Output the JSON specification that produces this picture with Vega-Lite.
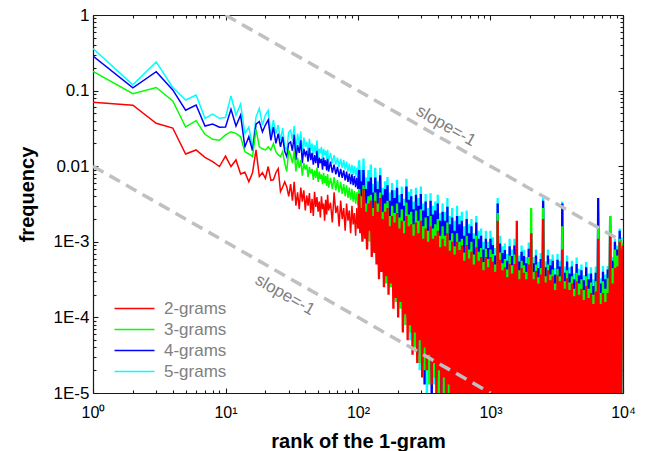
{
  "$schema": "https://vega.github.io/schema/vega-lite/v6.json",
  "width": 530,
  "height": 378,
  "autosize": "none",
  "padding": {"left": 93, "top": 15, "right": 24, "bottom": 58},
  "config": {
    "font": "Liberation Sans",
    "view": {"stroke": null},
    "axis": {
      "grid": false,
      "zindex": 1,
      "domainColor": "#1a1a1a",
      "domainWidth": 1.2,
      "tickColor": "#1a1a1a",
      "tickWidth": 1.1,
      "labelColor": "#000000",
      "titleColor": "#000000",
      "labelFlush": false,
      "labelOverlap": false
    }
  },
  "datasets": {
    "ngram": [
      {"x":1,"a":0.07,"b":0.18,"c":0.287,"d":0.36},
      {"x":2,"a":0.064,"b":0.091,"c":0.109,"d":0.119},
      {"x":3,"a":0.037,"b":0.11,"c":0.178,"d":0.24},
      {"x":4,"a":0.032,"b":0.073,"c":0.102,"d":0.11},
      {"x":5,"a":0.0145,"b":0.033,"c":0.055,"d":0.075},
      {"x":6,"a":0.0164,"b":0.04,"c":0.0645,"d":0.0875},
      {"x":7,"a":0.0131,"b":0.0264,"c":0.034,"d":0.043},
      {"x":8,"a":0.0115,"b":0.0227,"c":0.036,"d":0.049},
      {"x":9,"a":0.0099,"b":0.022,"c":0.0327,"d":0.043},
      {"x":10,"a":0.0136,"b":0.0259,"c":0.033,"d":0.044},
      {"x":11,"a":0.0099,"b":0.0286,"c":0.0565,"d":0.085},
      {"x":12,"a":0.0121,"b":0.0272,"c":0.034,"d":0.0475},
      {"x":13,"a":0.0079,"b":0.0245,"c":0.0475,"d":0.0665},
      {"x":14,"a":0.0083,"b":0.0156,"c":0.018,"d":0.0272},
      {"x":15,"a":0.0062,"b":0.0145,"c":0.0245,"d":0.033},
      {"x":16,"a":0.0082,"b":0.0134,"c":0.016,"d":0.018},
      {"x":17,"a":0.0164,"b":0.031,"c":0.036,"d":0.045},
      {"x":18,"a":0.0073,"b":0.018,"c":0.039,"d":0.058},
      {"x":19,"a":0.0082,"b":0.017,"c":0.0285,"d":0.035},
      {"x":20,"a":0.0069,"b":0.0164,"c":0.035,"d":0.0475},
      {"x":21,"a":0.0099,"b":0.018,"c":0.041,"d":0.055},
      {"x":22,"a":0.0065,"b":0.0164,"c":0.022,"d":0.0259},
      {"x":23,"a":0.0066,"b":0.02,"c":0.033,"d":0.041},
      {"x":24,"a":0.0082,"b":0.0156,"c":0.02,"d":0.027},
      {"x":25,"a":0.0093,"b":0.0141,"c":0.027,"d":0.035},
      {"x":26,"a":0.0046,"b":0.0134,"c":0.018,"d":0.022},
      {"x":27,"a":0.0053,"b":0.0156,"c":0.0245,"d":0.032},
      {"x":28,"a":0.0062,"b":0.011,"c":0.0156,"d":0.018},
      {"x":29,"a":0.0053,"b":0.0085,"c":0.0134,"d":0.0164},
      {"x":30,"a":0.004,"b":0.0164,"c":0.02,"d":0.028},
      {"x":31,"a":0.0058,"b":0.014,"c":0.021,"d":0.03},
      {"x":32,"a":0.0035,"b":0.011,"c":0.016,"d":0.022},
      {"x":33,"a":0.0062,"b":0.016,"c":0.026,"d":0.034},
      {"x":34,"a":0.003,"b":0.0085,"c":0.012,"d":0.016},
      {"x":35,"a":0.0045,"b":0.013,"c":0.019,"d":0.027},
      {"x":36,"a":0.0027,"b":0.0095,"c":0.015,"d":0.019},
      {"x":37,"a":0.0052,"b":0.012,"c":0.022,"d":0.029},
      {"x":38,"a":0.0034,"b":0.0075,"c":0.011,"d":0.014},
      {"x":39,"a":0.0048,"b":0.011,"c":0.017,"d":0.024},
      {"x":40,"a":0.0026,"b":0.009,"c":0.014,"d":0.018},
      {"x":41,"a":0.0041,"b":0.0105,"c":0.016,"d":0.021},
      {"x":42,"a":0.003,"b":0.0072,"c":0.0115,"d":0.015},
      {"x":43,"a":0.0044,"b":0.0098,"c":0.0175,"d":0.023},
      {"x":44,"a":0.0024,"b":0.008,"c":0.012,"d":0.016},
      {"x":45,"a":0.0037,"b":0.0092,"c":0.015,"d":0.02},
      {"x":46,"a":0.0022,"b":0.0066,"c":0.0105,"d":0.014},
      {"x":47,"a":0.0046,"b":0.0088,"c":0.014,"d":0.019},
      {"x":48,"a":0.0029,"b":0.007,"c":0.011,"d":0.0145},
      {"x":49,"a":0.0039,"b":0.0095,"c":0.016,"d":0.022},
      {"x":50,"a":0.0025,"b":0.0062,"c":0.0095,"d":0.013},
      {"x":51,"a":0.0034,"b":0.0085,"c":0.013,"d":0.017},
      {"x":52,"a":0.0021,"b":0.0068,"c":0.011,"d":0.015},
      {"x":53,"a":0.004,"b":0.0078,"c":0.0125,"d":0.018},
      {"x":54,"a":0.0027,"b":0.0058,"c":0.009,"d":0.012},
      {"x":55,"a":0.0032,"b":0.0082,"c":0.013,"d":0.017},
      {"x":56,"a":0.0019,"b":0.006,"c":0.01,"d":0.014},
      {"x":57,"a":0.0036,"b":0.0074,"c":0.012,"d":0.016},
      {"x":58,"a":0.0023,"b":0.0055,"c":0.0088,"d":0.012},
      {"x":59,"a":0.0042,"b":0.0079,"c":0.0125,"d":0.0165},
      {"x":60,"a":0.0026,"b":0.0052,"c":0.0085,"d":0.0115},
      {"x":62,"a":0.0033,"b":0.007,"c":0.0115,"d":0.015},
      {"x":64,"a":0.0018,"b":0.005,"c":0.0082,"d":0.011},
      {"x":66,"a":0.0045,"b":0.0072,"c":0.0105,"d":0.014},
      {"x":68,"a":0.0024,"b":0.0048,"c":0.0078,"d":0.0105},
      {"x":70,"a":0.003,"b":0.0066,"c":0.0098,"d":0.013},
      {"x":72,"a":0.0016,"b":0.0045,"c":0.0072,"d":0.0098},
      {"x":74,"a":0.0035,"b":0.0062,"c":0.0092,"d":0.0125},
      {"x":76,"a":0.002,"b":0.0043,"c":0.007,"d":0.0095},
      {"x":78,"a":0.0028,"b":0.0058,"c":0.0088,"d":0.012},
      {"x":80,"a":0.0014,"b":0.004,"c":0.0065,"d":0.009},
      {"x":82,"a":0.0032,"b":0.0056,"c":0.0085,"d":0.0115},
      {"x":84,"a":0.0019,"b":0.0038,"c":0.0062,"d":0.0085},
      {"x":86,"a":0.0026,"b":0.0052,"c":0.008,"d":0.0108},
      {"x":88,"a":0.0013,"b":0.0036,"c":0.0058,"d":0.008},
      {"x":90,"a":0.003,"b":0.005,"c":0.0078,"d":0.0104},
      {"x":92,"a":0.0017,"b":0.0034,"c":0.0056,"d":0.0077},
      {"x":94,"a":0.0024,"b":0.0047,"c":0.0074,"d":0.01},
      {"x":96,"a":0.0012,"b":0.0032,"c":0.0053,"d":0.0073},
      {"x":98,"a":0.0028,"b":0.0045,"c":0.007,"d":0.0095},
      {"x":100,"a":0.0015,"b":0.0031,"c":0.005,"d":0.007},
      {"x":102,"a":0.0043,"b":0.005,"c":0.0089,"d":0.012},
      {"x":104,"a":0.0013,"b":0.002,"c":0.0032,"d":0.0045},
      {"x":106,"a":0.0028,"b":0.004,"c":0.0063,"d":0.0089},
      {"x":108,"a":0.001,"b":0.0018,"c":0.0025,"d":0.0035},
      {"x":110,"a":0.005,"b":0.0056,"c":0.0089,"d":0.0126},
      {"x":113,"a":0.0011,"b":0.0014,"c":0.002,"d":0.0032},
      {"x":115,"a":0.0025,"b":0.0032,"c":0.005,"d":0.0071},
      {"x":117,"a":0.00079,"b":0.0016,"c":0.0022,"d":0.0028},
      {"x":120,"a":0.0032,"b":0.004,"c":0.0063,"d":0.0089},
      {"x":122,"a":0.0014,"b":0.001,"c":0.0016,"d":0.0025},
      {"x":125,"a":0.0035,"b":0.0042,"c":0.0071,"d":0.0105},
      {"x":127,"a":0.00063,"b":0.0013,"c":0.002,"d":0.0022},
      {"x":130,"a":0.0022,"b":0.0028,"c":0.0045,"d":0.0058},
      {"x":133,"a":0.00071,"b":0.00089,"c":0.0014,"d":0.002},
      {"x":135,"a":0.0035,"b":0.0045,"c":0.0071,"d":0.0095},
      {"x":138,"a":0.0005,"b":0.0011,"c":0.0016,"d":0.0018},
      {"x":141,"a":0.0025,"b":0.0032,"c":0.005,"d":0.0063},
      {"x":144,"a":0.00032,"b":0.00079,"c":0.001,"d":0.0014},
      {"x":147,"a":0.0038,"b":0.0045,"c":0.0076,"d":0.0095},
      {"x":150,"a":0.0004,"b":0.00063,"c":0.0011,"d":0.001},
      {"x":153,"a":0.002,"b":0.0025,"c":0.0042,"d":0.0052},
      {"x":157,"a":0.00025,"b":0.0005,"c":0.00079,"d":0.0013},
      {"x":160,"a":0.0025,"b":0.0032,"c":0.005,"d":0.0063},
      {"x":163,"a":0.00035,"b":0.00028,"c":0.00063,"d":0.00079},
      {"x":167,"a":0.0028,"b":0.0035,"c":0.0056,"d":0.0072},
      {"x":170,"a":0.0002,"b":0.00045,"c":0.0005,"d":0.0004},
      {"x":174,"a":0.0016,"b":0.0022,"c":0.0035,"d":0.0045},
      {"x":177,"a":0.00028,"b":0.00025,"c":0.00045,"d":0.00063},
      {"x":181,"a":0.0022,"b":0.003,"c":0.0048,"d":0.006},
      {"x":185,"a":0.00013,"b":0.00032,"c":0.00035,"d":0.00032},
      {"x":189,"a":0.0018,"b":0.0024,"c":0.0038,"d":0.0048},
      {"x":193,"a":0.00018,"b":0.00016,"c":0.00028,"d":0.0004},
      {"x":197,"a":0.0024,"b":0.0032,"c":0.0052,"d":0.0066},
      {"x":201,"a":0.0001,"b":0.00022,"c":0.0002,"d":0.00028},
      {"x":205,"a":0.0015,"b":0.0021,"c":0.0033,"d":0.0042},
      {"x":209,"a":0.00016,"b":0.00013,"c":0.00025,"d":0.00018},
      {"x":214,"a":0.0019,"b":0.0027,"c":0.0043,"d":0.0054},
      {"x":218,"a":6.3e-5,"b":0.00018,"c":0.00016,"d":0.00022},
      {"x":223,"a":0.0013,"b":0.0019,"c":0.003,"d":0.0037},
      {"x":228,"a":0.00011,"b":7.9e-5,"c":0.00013,"d":0.0001},
      {"x":232,"a":0.0022,"b":0.0033,"c":0.0054,"d":0.0068},
      {"x":237,"a":5e-5,"b":0.00014,"c":0.0001,"d":0.00013},
      {"x":242,"a":0.0016,"b":0.0023,"c":0.0036,"d":0.0046},
      {"x":247,"a":7.9e-5,"b":6.3e-5,"c":0.00011,"d":5e-5},
      {"x":252,"a":0.0017,"b":0.0025,"c":0.004,"d":0.005},
      {"x":258,"a":3.2e-5,"b":0.0001,"c":6.3e-5,"d":7.9e-5},
      {"x":263,"a":0.0012,"b":0.0017,"c":0.0027,"d":0.0034},
      {"x":269,"a":6.3e-5,"b":4e-5,"c":7.9e-5,"d":0.0001},
      {"x":274,"a":0.0018,"b":0.0026,"c":0.0042,"d":0.0052},
      {"x":280,"a":2.5e-5,"b":7.9e-5,"c":3.2e-5,"d":4e-5},
      {"x":286,"a":0.0013,"b":0.0019,"c":0.003,"d":0.0038},
      {"x":292,"a":5e-5,"b":2.5e-5,"c":5e-5,"d":2e-5},
      {"x":298,"a":0.0019,"b":0.0027,"c":0.0043,"d":0.0054},
      {"x":305,"a":1.6e-5,"b":5e-5,"c":2.5e-5,"d":4e-5},
      {"x":311,"a":0.0011,"b":0.0016,"c":0.0026,"d":0.0032},
      {"x":318,"a":4e-5,"b":2e-5,"c":1.3e-5,"d":2.5e-5},
      {"x":324,"a":0.0015,"b":0.0021,"c":0.0034,"d":0.0043},
      {"x":331,"a":2e-5,"b":3.2e-5,"c":4e-5,"d":6.3e-6},
      {"x":338,"a":0.001,"b":0.0014,"c":0.0022,"d":0.0028},
      {"x":345,"a":3.2e-5,"b":1.3e-5,"c":2e-5,"d":3.2e-5},
      {"x":353,"a":0.0016,"b":0.0022,"c":0.0035,"d":0.0044},
      {"x":360,"a":1.3e-5,"b":4e-5,"c":6.3e-6,"d":1.6e-5},
      {"x":368,"a":0.0011,"b":0.0015,"c":0.0023,"d":0.003},
      {"x":375,"a":2.5e-5,"b":1.6e-5,"c":3.2e-5,"d":1.3e-5},
      {"x":383,"a":0.0012,"b":0.0017,"c":0.0026,"d":0.0034},
      {"x":391,"a":6.3e-6,"b":2.5e-5,"c":1.6e-5,"d":2.5e-5},
      {"x":400,"a":0.0014,"b":0.002,"c":0.0032,"d":0.0042},
      {"x":408,"a":2e-5,"b":8e-6,"c":2.5e-5,"d":5e-6},
      {"x":417,"a":0.00085,"b":0.0012,"c":0.0019,"d":0.0024},
      {"x":426,"a":1e-5,"b":2e-5,"c":5e-6,"d":1.6e-5},
      {"x":435,"a":0.0011,"b":0.0016,"c":0.0025,"d":0.0032},
      {"x":444,"a":1.6e-5,"b":6.3e-6,"c":1.3e-5,"d":8e-6},
      {"x":453,"a":0.00087,"b":0.0012,"c":0.0019,"d":0.0025},
      {"x":463,"a":5e-6,"b":1.6e-5,"c":1e-5,"d":2e-5},
      {"x":473,"a":0.0013,"b":0.0018,"c":0.0029,"d":0.0038},
      {"x":483,"a":1.3e-5,"b":5e-6,"c":4e-6,"d":6.3e-6},
      {"x":493,"a":0.00076,"b":0.00105,"c":0.0017,"d":0.0022},
      {"x":503,"a":4e-6,"b":1.3e-5,"c":1e-5,"d":4e-6},
      {"x":514,"a":0.001,"b":0.0013,"c":0.0021,"d":0.0028},
      {"x":525,"a":8e-6,"b":4e-6,"c":5e-6,"d":1e-5},
      {"x":536,"a":0.00068,"b":0.00087,"c":0.0014,"d":0.0019},
      {"x":547,"a":5e-6,"b":6.3e-6,"c":1.3e-5,"d":4e-6},
      {"x":559,"a":0.001,"b":0.0013,"c":0.0022,"d":0.003},
      {"x":571,"a":4e-6,"b":5e-6,"c":4e-6,"d":6.3e-6},
      {"x":583,"a":0.00078,"b":0.001,"c":0.0017,"d":0.0022},
      {"x":595,"a":1e-5,"b":4e-6,"c":6.3e-6,"d":4e-6},
      {"x":608,"a":0.00089,"b":0.0011,"c":0.0019,"d":0.0025},
      {"x":620,"a":4e-6,"b":4e-6,"c":4e-6,"d":4e-6},
      {"x":634,"a":0.00056,"b":0.00072,"c":0.0012,"d":0.0016},
      {"x":647,"a":6.3e-6,"b":1e-5,"c":4e-6,"d":5e-6},
      {"x":661,"a":0.00091,"b":0.0012,"c":0.002,"d":0.0026},
      {"x":675,"a":4e-6,"b":4e-6,"c":8e-6,"d":4e-6},
      {"x":689,"a":0.0006,"b":0.00079,"c":0.0013,"d":0.0017},
      {"x":703,"a":4e-6,"b":4e-6,"c":4e-6,"d":4e-6},
      {"x":718,"a":0.00074,"b":0.001,"c":0.0016,"d":0.002},
      {"x":733,"a":1e-5,"b":4e-6,"c":4e-6,"d":4e-6},
      {"x":749,"a":0.0005,"b":0.00068,"c":0.0011,"d":0.0013},
      {"x":765,"a":4e-6,"b":4e-6,"c":4e-6,"d":4e-6},
      {"x":781,"a":0.00085,"b":0.0012,"c":0.0018,"d":0.0022},
      {"x":797,"a":4e-6,"b":4e-6,"c":4e-6,"d":4e-6},
      {"x":814,"a":0.00056,"b":0.00074,"c":0.0011,"d":0.0014},
      {"x":831,"a":4e-6,"b":4e-6,"c":4e-6,"d":4e-6},
      {"x":849,"a":0.00063,"b":0.00083,"c":0.0012,"d":0.0015},
      {"x":867,"a":4e-6,"b":4e-6,"c":4e-6,"d":4e-6},
      {"x":885,"a":0.00042,"b":0.00054,"c":0.00079,"d":0.001},
      {"x":904,"a":4e-6,"b":4e-6,"c":4e-6,"d":4e-6},
      {"x":923,"a":0.00063,"b":0.00081,"c":0.0011,"d":0.0014},
      {"x":942,"a":4e-6,"b":4e-6,"c":4e-6,"d":4e-6},
      {"x":962,"a":0.00046,"b":0.00059,"c":0.00083,"d":0.001},
      {"x":982,"a":4e-6,"b":4e-6,"c":4e-6,"d":4e-6},
      {"x":1000,"a":0.00063,"b":0.00079,"c":0.0011,"d":0.0014},
      {"x":1021,"a":4e-6,"b":4e-6,"c":4e-6,"d":4e-6},
      {"x":1042,"a":0.00055,"b":0.00069,"c":0.00091,"d":0.00115},
      {"x":1064,"a":4e-6,"b":4e-6,"c":4e-6,"d":4e-6},
      {"x":1087,"a":0.0004,"b":0.0005,"c":0.00066,"d":0.00083},
      {"x":1110,"a":4e-6,"b":4e-6,"c":4e-6,"d":4e-6},
      {"x":1133,"a":0.0019,"b":0.0024,"c":0.0032,"d":0.0038},
      {"x":1157,"a":4e-6,"b":4e-6,"c":4e-6,"d":4e-6},
      {"x":1181,"a":0.00058,"b":0.00072,"c":0.00095,"d":0.0012},
      {"x":1206,"a":4e-6,"b":4e-6,"c":4e-6,"d":4e-6},
      {"x":1231,"a":0.00042,"b":0.00052,"c":0.00071,"d":0.00087},
      {"x":1257,"a":4e-6,"b":4e-6,"c":4e-6,"d":4e-6},
      {"x":1284,"a":0.00046,"b":0.00059,"c":0.00078,"d":0.00095},
      {"x":1311,"a":4e-6,"b":4e-6,"c":4e-6,"d":4e-6},
      {"x":1338,"a":0.00034,"b":0.00043,"c":0.00056,"d":0.00069},
      {"x":1366,"a":4e-6,"b":4e-6,"c":4e-6,"d":4e-6},
      {"x":1395,"a":0.00051,"b":0.00066,"c":0.00087,"d":0.0011},
      {"x":1424,"a":4e-6,"b":4e-6,"c":4e-6,"d":4e-6},
      {"x":1454,"a":0.00038,"b":0.00049,"c":0.00065,"d":0.00079},
      {"x":1485,"a":4e-6,"b":4e-6,"c":4e-6,"d":4e-6},
      {"x":1516,"a":0.00051,"b":0.00068,"c":0.00089,"d":0.0011},
      {"x":1548,"a":4e-6,"b":4e-6,"c":4e-6,"d":4e-6},
      {"x":1580,"a":0.0019,"b":0.00063,"c":0.00079,"d":0.001},
      {"x":1613,"a":4e-6,"b":4e-6,"c":4e-6,"d":4e-6},
      {"x":1647,"a":0.00032,"b":0.00042,"c":0.00055,"d":0.00066},
      {"x":1682,"a":4e-6,"b":4e-6,"c":4e-6,"d":4e-6},
      {"x":1717,"a":0.00045,"b":0.00056,"c":0.00074,"d":0.00089},
      {"x":1753,"a":4e-6,"b":4e-6,"c":4e-6,"d":4e-6},
      {"x":1790,"a":0.00039,"b":0.00049,"c":0.00065,"d":0.00078},
      {"x":1828,"a":4e-6,"b":4e-6,"c":4e-6,"d":4e-6},
      {"x":1866,"a":0.00032,"b":0.0004,"c":0.00052,"d":0.00063},
      {"x":1905,"a":4e-6,"b":4e-6,"c":4e-6,"d":4e-6},
      {"x":1945,"a":0.0005,"b":0.00063,"c":0.00081,"d":0.00098},
      {"x":1986,"a":4e-6,"b":4e-6,"c":4e-6,"d":4e-6},
      {"x":2028,"a":0.0013,"b":0.0028,"c":0.0013,"d":0.0011},
      {"x":2071,"a":4e-6,"b":4e-6,"c":4e-6,"d":4e-6},
      {"x":2114,"a":0.00032,"b":0.0004,"c":0.00052,"d":0.00063},
      {"x":2158,"a":4e-6,"b":4e-6,"c":4e-6,"d":4e-6},
      {"x":2204,"a":0.00041,"b":0.0005,"c":0.00066,"d":0.00079},
      {"x":2250,"a":4e-6,"b":4e-6,"c":4e-6,"d":4e-6},
      {"x":2297,"a":0.00028,"b":0.00034,"c":0.00045,"d":0.00054},
      {"x":2345,"a":4e-6,"b":4e-6,"c":4e-6,"d":4e-6},
      {"x":2395,"a":0.00037,"b":0.00045,"c":0.00059,"d":0.00071},
      {"x":2445,"a":4e-6,"b":4e-6,"c":4e-6,"d":4e-6},
      {"x":2496,"a":0.002,"b":0.0028,"c":0.0035,"d":0.0038},
      {"x":2549,"a":4e-6,"b":4e-6,"c":4e-6,"d":4e-6},
      {"x":2602,"a":0.00029,"b":0.00035,"c":0.00046,"d":0.00055},
      {"x":2657,"a":4e-6,"b":4e-6,"c":4e-6,"d":4e-6},
      {"x":2713,"a":0.00042,"b":0.0005,"c":0.00066,"d":0.00079},
      {"x":2770,"a":4e-6,"b":4e-6,"c":4e-6,"d":4e-6},
      {"x":2828,"a":0.00031,"b":0.00037,"c":0.00049,"d":0.00059},
      {"x":2887,"a":4e-6,"b":4e-6,"c":4e-6,"d":4e-6},
      {"x":2948,"a":0.00035,"b":0.00043,"c":0.00056,"d":0.00068},
      {"x":3010,"a":4e-6,"b":4e-6,"c":4e-6,"d":4e-6},
      {"x":3073,"a":0.00023,"b":0.00028,"c":0.00037,"d":0.00045},
      {"x":3138,"a":4e-6,"b":4e-6,"c":4e-6,"d":4e-6},
      {"x":3204,"a":0.00036,"b":0.00044,"c":0.00058,"d":0.00069},
      {"x":3271,"a":4e-6,"b":4e-6,"c":4e-6,"d":4e-6},
      {"x":3340,"a":0.0003,"b":0.00035,"c":0.00047,"d":0.00056},
      {"x":3410,"a":4e-6,"b":4e-6,"c":4e-6,"d":4e-6},
      {"x":3482,"a":0.00079,"b":0.0016,"c":0.0032,"d":0.0034},
      {"x":3555,"a":4e-6,"b":4e-6,"c":4e-6,"d":4e-6},
      {"x":3630,"a":0.00024,"b":0.0003,"c":0.00039,"d":0.00047},
      {"x":3706,"a":4e-6,"b":4e-6,"c":4e-6,"d":4e-6},
      {"x":3784,"a":0.00033,"b":0.00042,"c":0.00055,"d":0.00066},
      {"x":3863,"a":4e-6,"b":4e-6,"c":4e-6,"d":4e-6},
      {"x":3944,"a":0.00023,"b":0.00029,"c":0.00038,"d":0.00046},
      {"x":4027,"a":4e-6,"b":4e-6,"c":4e-6,"d":4e-6},
      {"x":4112,"a":0.00028,"b":0.00035,"c":0.00047,"d":0.00056},
      {"x":4198,"a":4e-6,"b":4e-6,"c":4e-6,"d":4e-6},
      {"x":4286,"a":0.00019,"b":0.00024,"c":0.00032,"d":0.00038},
      {"x":4376,"a":4e-6,"b":4e-6,"c":4e-6,"d":4e-6},
      {"x":4468,"a":0.0003,"b":0.00039,"c":0.00051,"d":0.00062},
      {"x":4562,"a":4e-6,"b":4e-6,"c":4e-6,"d":4e-6},
      {"x":4658,"a":0.0002,"b":0.00028,"c":0.00036,"d":0.00044},
      {"x":4756,"a":4e-6,"b":4e-6,"c":4e-6,"d":4e-6},
      {"x":4856,"a":0.00024,"b":0.00032,"c":0.00042,"d":0.0005},
      {"x":4958,"a":4e-6,"b":4e-6,"c":4e-6,"d":4e-6},
      {"x":5062,"a":0.00017,"b":0.00023,"c":0.00031,"d":0.00036},
      {"x":5168,"a":4e-6,"b":4e-6,"c":4e-6,"d":4e-6},
      {"x":5277,"a":0.00026,"b":0.00035,"c":0.00046,"d":0.00054},
      {"x":5388,"a":4e-6,"b":4e-6,"c":4e-6,"d":4e-6},
      {"x":5501,"a":0.00018,"b":0.00024,"c":0.00032,"d":0.00038},
      {"x":5617,"a":4e-6,"b":4e-6,"c":4e-6,"d":4e-6},
      {"x":5735,"a":0.00021,"b":0.00029,"c":0.00038,"d":0.00046},
      {"x":5855,"a":4e-6,"b":4e-6,"c":4e-6,"d":4e-6},
      {"x":5978,"a":0.00015,"b":0.0002,"c":0.00026,"d":0.00032},
      {"x":6104,"a":4e-6,"b":4e-6,"c":4e-6,"d":4e-6},
      {"x":6232,"a":0.00022,"b":0.0003,"c":0.00039,"d":0.00047},
      {"x":6363,"a":4e-6,"b":4e-6,"c":4e-6,"d":4e-6},
      {"x":6497,"a":0.0011,"b":0.0016,"c":0.0038,"d":0.0025},
      {"x":6633,"a":4e-6,"b":4e-6,"c":4e-6,"d":4e-6},
      {"x":6773,"a":0.00015,"b":0.00021,"c":0.00028,"d":0.00033},
      {"x":6915,"a":4e-6,"b":4e-6,"c":4e-6,"d":4e-6},
      {"x":7060,"a":0.00021,"b":0.0003,"c":0.0004,"d":0.00048},
      {"x":7209,"a":4e-6,"b":4e-6,"c":4e-6,"d":4e-6},
      {"x":7360,"a":0.00016,"b":0.00024,"c":0.00032,"d":0.00037},
      {"x":7515,"a":4e-6,"b":4e-6,"c":4e-6,"d":4e-6},
      {"x":7673,"a":0.00021,"b":0.00033,"c":0.00043,"d":0.00048},
      {"x":7834,"a":4e-6,"b":4e-6,"c":4e-6,"d":4e-6},
      {"x":7999,"a":0.0013,"b":0.0022,"c":0.0022,"d":0.0018},
      {"x":8167,"a":4e-6,"b":4e-6,"c":4e-6,"d":4e-6},
      {"x":8338,"a":0.00028,"b":0.00045,"c":0.00056,"d":0.00063},
      {"x":8513,"a":4e-6,"b":4e-6,"c":4e-6,"d":4e-6},
      {"x":8692,"a":0.00045,"b":0.00079,"c":0.001,"d":0.0011},
      {"x":8875,"a":4e-6,"b":4e-6,"c":4e-6,"d":4e-6},
      {"x":9061,"a":0.00047,"b":0.00066,"c":0.00079,"d":0.00089},
      {"x":9252,"a":4e-6,"b":4e-6,"c":4e-6,"d":4e-6},
      {"x":9446,"a":0.001,"b":0.0011,"c":0.0014,"d":0.0015},
      {"x":9645,"a":4e-6,"b":4e-6,"c":4e-6,"d":4e-6},
      {"x":9847,"a":0.00076,"b":0.00095,"c":0.001,"d":0.0011},
      {"x":10000,"a":0.00089,"b":0.001,"c":0.001,"d":0.0011}
    ],
    "guides": [
      {"g":"upper","x":10,"y":1},
      {"g":"upper","x":10000,"y":0.001},
      {"g":"lower","x":1,"y":0.01},
      {"g":"lower","x":1000,"y":0.00001}
    ],
    "notes": [
      {"x":461,"y":0.034,"t":"slope=-1"},
      {"x":28.1,"y":0.000198,"t":"slope=-1"}
    ]
  },
  "layer": [
    {
      "data": {"name": "ngram"},
      "transform": [
        {"filter": "datum.x <= 100"},
        {"fold": ["d", "c", "b", "a"], "as": ["s", "y"]}
      ],
      "mark": {"type": "line", "clip": true, "strokeWidth": 1.5},
      "encoding": {
        "x": {
          "field": "x",
          "type": "quantitative",
          "scale": {"type": "log", "domain": [1, 10000], "nice": false},
          "axis": {
            "orient": "bottom",
            "values": [1, 10, 100, 1000, 10000],
            "tickSize": -5,
            "labelExpr": "'10' + ['⁰','¹','²','³','⁴'][round(log(datum.value) / LN10)]",
            "labelFontSize": 16,
            "labelPadding": 16,
            "labelBaseline": "top",
            "title": "rank of the 1-gram",
            "titleFontSize": 20,
            "titleFontWeight": "bold",
            "titleX": 265,
            "titleY": 54,
            "titleBaseline": "alphabetic"
          }
        },
        "y": {
          "field": "y",
          "type": "quantitative",
          "scale": {"type": "log", "domain": [0.00001, 1], "nice": false},
          "axis": {
            "orient": "left",
            "values": [0.00001, 0.0001, 0.001, 0.01, 0.1, 1],
            "tickSize": -5,
            "labelExpr": "datum.value > 0.5 ? '1' : datum.value > 0.05 ? '0.1' : datum.value > 0.005 ? '0.01' : '1E' + round(log(datum.value) / LN10)",
            "labelFontSize": 17,
            "labelPadding": 9,
            "title": "frequency",
            "titleFontSize": 20,
            "titleFontWeight": "bold",
            "titleAngle": -90,
            "titleX": -66,
            "titleY": 179,
            "titleBaseline": "middle"
          }
        },
        "color": {
          "field": "s",
          "type": "nominal",
          "scale": {"domain": ["a", "b", "c", "d"], "range": ["#ff0000", "#00ff00", "#0000ff", "#00ffff"]},
          "legend": {
            "title": null,
            "orient": "none",
            "legendX": 20,
            "legendY": 285,
            "padding": 0,
            "symbolType": "M-1,0H4.714",
            "symbolSize": 196,
            "symbolStrokeWidth": 1.5,
            "labelFontSize": 17,
            "labelColor": "#808080",
            "labelOffset": 34,
            "rowPadding": 3,
            "labelExpr": "datum.label == 'a' ? '2-grams' : datum.label == 'b' ? '3-grams' : datum.label == 'c' ? '4-grams' : '5-grams'"
          }
        }
      }
    },
    {
      "data": {"name": "ngram"},
      "transform": [
        {"filter": "datum.x >= 100"},
        {"fold": ["d", "c", "b", "a"], "as": ["s", "y"]}
      ],
      "mark": {"type": "line", "clip": true, "strokeWidth": 2.3},
      "encoding": {
        "x": {
          "field": "x",
          "type": "quantitative",
          "scale": {"type": "log", "domain": [1, 10000], "nice": false},
          "axis": null
        },
        "y": {
          "field": "y",
          "type": "quantitative",
          "scale": {"type": "log", "domain": [0.00001, 1], "nice": false},
          "axis": null
        },
        "color": {
          "field": "s",
          "type": "nominal",
          "scale": {"domain": ["a", "b", "c", "d"], "range": ["#ff0000", "#00ff00", "#0000ff", "#00ffff"]},
          "legend": null
        }
      }
    },
    {
      "data": {"name": "guides"},
      "mark": {"type": "line", "clip": true, "color": "#c0c0c0", "strokeWidth": 3.5, "strokeDash": [12, 7]},
      "encoding": {
        "x": {
          "field": "x",
          "type": "quantitative",
          "scale": {"type": "log", "domain": [1, 10000], "nice": false},
          "axis": {"orient": "top", "values": [1, 10, 100, 1000, 10000], "tickSize": -5, "labels": false, "title": null}
        },
        "y": {
          "field": "y",
          "type": "quantitative",
          "scale": {"type": "log", "domain": [0.00001, 1], "nice": false},
          "axis": {"orient": "right", "values": [0.00001, 0.0001, 0.001, 0.01, 0.1, 1], "tickSize": -5, "labels": false, "title": null}
        },
        "detail": {"field": "g"}
      }
    },
    {
      "data": {"name": "notes"},
      "mark": {"type": "text", "angle": 29.7, "fontSize": 17, "color": "#808080", "align": "center", "baseline": "middle"},
      "encoding": {
        "x": {
          "field": "x",
          "type": "quantitative",
          "scale": {"type": "log", "domain": [1, 10000], "nice": false},
          "axis": {
            "orient": "bottom",
            "values": [2, 3, 4, 5, 6, 7, 8, 9, 20, 30, 40, 50, 60, 70, 80, 90, 200, 300, 400, 500, 600, 700, 800, 900, 2000, 3000, 4000, 5000, 6000, 7000, 8000, 9000],
            "tickSize": -3,
            "labels": false,
            "domain": false,
            "title": null
          }
        },
        "y": {
          "field": "y",
          "type": "quantitative",
          "scale": {"type": "log", "domain": [0.00001, 1], "nice": false},
          "axis": {
            "orient": "left",
            "values": [0.00002, 0.00003, 0.00004, 0.00005, 0.00006, 0.00007, 0.00008, 0.00009, 0.0002, 0.0003, 0.0004, 0.0005, 0.0006, 0.0007, 0.0008, 0.0009, 0.002, 0.003, 0.004, 0.005, 0.006, 0.007, 0.008, 0.009, 0.02, 0.03, 0.04, 0.05, 0.06, 0.07, 0.08, 0.09, 0.2, 0.3, 0.4, 0.5, 0.6, 0.7, 0.8, 0.9],
            "tickSize": -3,
            "labels": false,
            "domain": false,
            "title": null
          }
        },
        "text": {"field": "t"}
      }
    },
    {
      "data": {"name": "guides"},
      "mark": {"type": "point", "opacity": 0},
      "encoding": {
        "x": {
          "field": "x",
          "type": "quantitative",
          "scale": {"type": "log", "domain": [1, 10000], "nice": false},
          "axis": {
            "orient": "top",
            "values": [2, 3, 4, 5, 6, 7, 8, 9, 20, 30, 40, 50, 60, 70, 80, 90, 200, 300, 400, 500, 600, 700, 800, 900, 2000, 3000, 4000, 5000, 6000, 7000, 8000, 9000],
            "tickSize": -3,
            "labels": false,
            "domain": false,
            "title": null
          }
        },
        "y": {
          "field": "y",
          "type": "quantitative",
          "scale": {"type": "log", "domain": [0.00001, 1], "nice": false},
          "axis": {
            "orient": "right",
            "values": [0.00002, 0.00003, 0.00004, 0.00005, 0.00006, 0.00007, 0.00008, 0.00009, 0.0002, 0.0003, 0.0004, 0.0005, 0.0006, 0.0007, 0.0008, 0.0009, 0.002, 0.003, 0.004, 0.005, 0.006, 0.007, 0.008, 0.009, 0.02, 0.03, 0.04, 0.05, 0.06, 0.07, 0.08, 0.09, 0.2, 0.3, 0.4, 0.5, 0.6, 0.7, 0.8, 0.9],
            "tickSize": -3,
            "labels": false,
            "domain": false,
            "title": null
          }
        }
      }
    }
  ],
  "resolve": {"axis": {"x": "independent", "y": "independent"}}
}
